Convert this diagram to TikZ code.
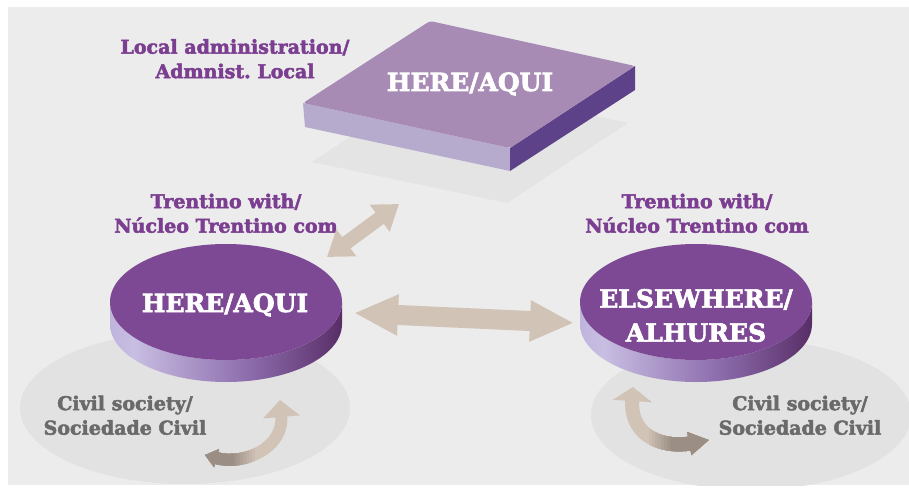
\documentclass[tikz,border=0pt]{standalone}
\usepackage{fontspec}
\setmainfont{DejaVu Serif}[BoldFeatures={FakeBold=2.6}]
\frenchspacing
\usetikzlibrary{arrows.meta}

\definecolor{bgcol}{RGB}{235,236,235}
\definecolor{shadowcol}{RGB}{225,226,225}
\definecolor{sqshadow}{RGB}{227,228,227}
\definecolor{sqtop}{RGB}{168,139,181}
\definecolor{sqfront}{RGB}{182,170,205}
\definecolor{sqside}{RGB}{94,66,137}
\definecolor{disctop}{RGB}{125,73,148}
\definecolor{sideA}{RGB}{150,130,190}
\definecolor{sideB}{RGB}{200,190,226}
\definecolor{sideC}{RGB}{140,108,172}
\definecolor{sideD}{RGB}{76,30,86}
\definecolor{sideE}{RGB}{104,76,150}
\definecolor{arrowtan}{RGB}{210,195,183}
\definecolor{arrowgrey}{RGB}{155,143,133}
\definecolor{labelpurple}{RGB}{123,62,145}
\definecolor{labelgrey}{RGB}{106,106,106}

\pgfdeclarehorizontalshading{discside}{100bp}{color(0bp)=(sideA); color(30bp)=(sideB); color(55bp)=(sideC); color(80bp)=(sideD); color(100bp)=(sideE)}

% disc with a shaded rim: centre x, centre y
\newcommand\drawdisc[2]{%
  \shade[shading=discside] (#1-116,#2) -- (#1-116,#2+22)
    arc[start angle=180,end angle=0,x radius=116,y radius=58] -- (#1+116,#2)
    arc[start angle=0,end angle=180,x radius=116,y radius=58] -- cycle;
  \fill[disctop] (#1,#2) ellipse[x radius=116,y radius=58];}

\tikzset{
  smalllabel/.style={font=\bfseries\fontsize{19}{24.5}\selectfont, align=center, inner sep=0pt},
  purplelabel/.style={smalllabel, text=labelpurple},
  greylabel/.style={smalllabel, text=labelgrey},
  biglabel/.style={font=\bfseries\fontsize{25}{34}\selectfont, align=center, inner sep=0pt, text=white},
  straightarrow/.style={arrowtan, line width=#1},
}

\begin{document}
\begin{tikzpicture}[x=1pt,y=-1pt]
\useasboundingbox (0,0) rectangle (909,494);
\fill[bgcol] (8,7) rectangle (909,485);

% ground shadows
\begin{scope}
  \clip (8,7) rectangle (909,485);
  \fill[shadowcol] (185,408) ellipse[x radius=165, y radius=76];
  \fill[shadowcol] (751,415) ellipse[x radius=160, y radius=75];
  \fill[sqshadow] (433,82) -- (628,123) -- (507,203) -- (312,162) -- cycle;
\end{scope}

% raised square
\fill[sqfront] (303,103) -- (510,148) -- (510,171) -- (305,127) -- cycle;
\fill[sqside] (510,148) -- (635,66) -- (635,90) -- (510,171) -- cycle;
\fill[sqtop, rounded corners=3pt] (430,21) -- (635,66) -- (510,148) -- (303,103) -- cycle;
\node[biglabel, anchor=base] (hereTop) at (470,91) {HERE/AQUI};

% discs
\drawdisc{226}{302}
\drawdisc{696}{302}
\node[biglabel, anchor=base] (hereL) at (225,312) {HERE/AQUI};
\node[biglabel] (elsewhere) at (696,315.5) {ELSEWHERE/\\ALHURES};

% labels
\node[purplelabel] (localLbl) at (235,58.8) {Local administration/\\Admnist. Local};
\node[purplelabel] (trentL) at (226,213.3) {Trentino with/\\Núcleo Trentino com};
\node[purplelabel] (trentR) at (697,213.3) {Trentino with/\\Núcleo Trentino com};
\node[greylabel] (civilL) at (125,415.3) {Civil society/\\Sociedade Civil};
\node[greylabel] (civilR) at (800,415.3) {Civil society/\\Sociedade Civil};

% straight double arrows
\coordinate (dA) at (327,257);
\coordinate (dB) at (399,204);
\coordinate (hA) at (354,313);
\coordinate (hB) at (574,323);
\draw[straightarrow=14pt, {Triangle[width=32pt 0,length=24pt 0 0]}-{Triangle[width=32pt 0,length=24pt 0 0]}] (dA) -- (dB);
\draw[straightarrow=20pt, {Triangle[width=38pt 0,length=44pt 0 0]}-{Triangle[width=38pt 0,length=44pt 0 0]}] (hA) -- (hB);

% curved arrows, tan fading into grey-brown
\coordinate (lcA) at (205,455);
\coordinate (lcB) at (280,400);
\coordinate (rcA) at (633,387);
\coordinate (rcB) at (709,440);
\draw[color=arrowtan, line width=12pt, {Triangle[width=18pt 0,length=12pt 0 0]}-{Triangle[width=36pt 0,length=17pt 0 0]}]
  (lcA) .. controls (245,466) and (284,447) .. (lcB);
\foreach \k in {1,...,8}{
  \pgfmathtruncatemacro\pc{100-12.5*\k}
  \begin{scope}
    \clip (0,380) rectangle ({258-3*\k},490);
    \draw[color=arrowtan!\pc!arrowgrey, line width=12pt, {Triangle[width=18pt 0,length=12pt 0 0]}-{Triangle[width=36pt 0,length=17pt 0 0]}]
      (lcA) .. controls (245,466) and (284,447) .. (lcB);
  \end{scope}
}
\draw[color=arrowtan, line width=14pt, {Triangle[width=38pt 0,length=14pt 0 0]}-{Triangle[width=22pt 0,length=20pt 0 0]}]
  (rcA) .. controls (630,438) and (665,448) .. (rcB);
\foreach \k in {1,...,8}{
  \pgfmathtruncatemacro\pc{100-12.5*\k}
  \begin{scope}
    \clip ({646+3*\k},370) rectangle (760,490);
    \draw[color=arrowtan!\pc!arrowgrey, line width=14pt, {Triangle[width=38pt 0,length=14pt 0 0]}-{Triangle[width=22pt 0,length=20pt 0 0]}]
      (rcA) .. controls (630,438) and (665,448) .. (rcB);
  \end{scope}
}
\end{tikzpicture}
\end{document}
